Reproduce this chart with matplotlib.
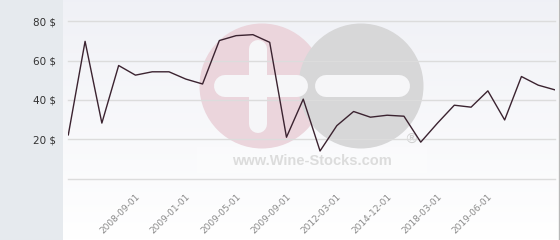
import numpy as np
import matplotlib.pyplot as plt
from matplotlib.patches import Circle, Rectangle

# price per point (category axis, evenly spaced)
prices = [22.2, 69.8, 28.2, 57.5, 52.6, 54.3, 54.3, 50.6, 48.1, 70.2,
          72.7, 73.2, 69.3, 21.0, 40.4, 14.0, 26.9, 34.1, 31.2, 32.2,
          31.7, 18.5, 28.2, 37.3, 36.3, 44.6, 29.8, 51.9, 47.5, 45.1]
tick_idx = [4, 7, 10, 13, 16, 19, 22, 25]
tick_labels = ['2008-09-01', '2009-01-01', '2009-05-01', '2009-09-01',
               '2012-03-01', '2014-12-01', '2018-03-01', '2019-06-01']
y_ticks = [0, 20, 40, 60, 80]
y_labels = ['', '20 $', '40 $', '60 $', '80 $']

W, H = 560, 240
fig = plt.figure(figsize=(W / 100, H / 100), dpi=100)

# background layer in pixel coords
bg = fig.add_axes([0, 0, 1, 1], zorder=0)
bg.set_xlim(0, W)
bg.set_ylim(H, 0)
bg.axis('off')
bg.add_patch(Rectangle((0, 0), 63, H, color='#e6eaee', lw=0))
grad = np.linspace(0, 1, 100).reshape(-1, 1)
top = np.array([0.941, 0.945, 0.965])
bot = np.array([1.0, 1.0, 1.0])
img = top + (bot - top) * grad[..., None]
bg.imshow(img, extent=[63, 558, H, 0], aspect='auto', zorder=0)
bg.plot([558.5, 558.5], [0, H], color='#b8b8b8', lw=1)

# watermark
bg.add_patch(Rectangle((197, 147), 230, 26, color='white', alpha=0.3, lw=0, zorder=1))
bg.add_patch(Circle((262, 86), 62.5, color='#ebd5dc', lw=0, zorder=2))
bg.add_patch(Circle((361, 86), 62.5, color='#d7d7d8', lw=0, zorder=3))
px = 0.72
bg.plot([257.5, 257.5], [49, 124], color='#f6f6f8', lw=18 * px,
        solid_capstyle='round', zorder=4)
bg.plot([225, 297], [85.5, 85.5], color='#f6f6f8', lw=22 * px,
        solid_capstyle='round', zorder=4)
bg.plot([326, 399], [85.5, 85.5], color='#f6f6f8', lw=22 * px,
        solid_capstyle='round', zorder=4)
bg.text(312, 161, 'www.Wine-Stocks.com', color='#dcdcdc', fontsize=10.5,
        fontweight='bold', ha='center', va='center', zorder=5,
        family='Liberation Sans')
bg.text(411.5, 139.5, '®', color='#d0d0d0', fontsize=10, ha='center',
        va='center', zorder=5)

# main chart
ax = fig.add_axes([68.3 / W, 1 - 178.5 / H, (555 - 68.3) / W, (178.5 - 21.3) / H],
                  zorder=1)
ax.patch.set_alpha(0)
ax.plot(range(len(prices)), prices, color='#3b2330', lw=1)
ax.set_xlim(0, len(prices) - 1)
ax.set_ylim(0, 80)
ax.set_yticks(y_ticks)
ax.set_yticklabels(y_labels)
ax.yaxis.grid(True, color='#dcdcdc', lw=1)
for gl in ax.get_ygridlines():
    gl.set_clip_on(False)
ax.set_axisbelow(True)
ax.set_xticks(tick_idx)
ax.set_xticklabels(tick_labels, rotation=45, ha='right', rotation_mode='anchor',
                   fontsize=6.5, color='#8a8a8a')
ax.tick_params(axis='x', length=0, pad=10)
ax.tick_params(axis='y', length=0, pad=9, labelsize=7.5, labelcolor='#333333')
for s in ax.spines.values():
    s.set_visible(False)

fig.savefig('out.png', dpi=100)
